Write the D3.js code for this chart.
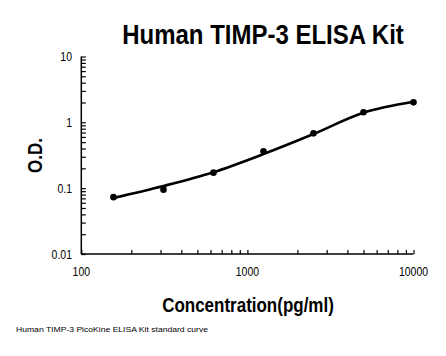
<!DOCTYPE html>
<html><head><meta charset="utf-8">
<script src="https://cdn.jsdelivr.net/npm/d3@7"></script>
<style>html,body{margin:0;padding:0;background:#fff}svg{display:block}text{font-family:"Liberation Sans",Arial,sans-serif;fill:#000}</style>
</head><body><svg id="c" width="446" height="356"></svg>
<script>
const concentrations = [156.25, 312.5, 625, 1250, 2500, 5000, 10000];
const odValues = [0.073, 0.095, 0.172, 0.364, 0.68, 1.42, 2.01];
const fitValues = [0.071, 0.108, 0.175, 0.33, 0.665, 1.40, 2.05];
const xTickValues = [100, 1000, 10000];
const xTickLabels = ["100", "1000", "10000"];
const yTickValues = [0.01, 0.1, 1, 10];
const yTickLabels = ["0.01", "0.1", "1", "10"];

const svg = d3.select("#c");
const x = d3.scaleLog().domain([100, 10000]).range([81.3, 413.5]);
const y = d3.scaleLog().domain([0.01, 10]).range([254, 56.5]);

const xMinor = [];
for (let d = 100; d < 10000; d *= 10) for (let k = 1; k <= 9; k++) xMinor.push(k * d);
xMinor.push(10000);
const yMinor = [];
for (let d = 0.01; d < 9.99; d *= 10) for (let k = 1; k <= 9; k++) yMinor.push(+(k * d).toPrecision(3));
yMinor.push(10);

const g = svg.append("g");
const xAxis = d3.axisBottom(x).tickValues(xMinor).tickSize(-4).tickFormat("");
g.append("g").attr("transform", "translate(0,254)").call(xAxis)
  .call(s => s.select(".domain").attr("d", `M${x(100)},0H${x(10000)}`).attr("stroke-width", 1.5))
  .call(s => s.selectAll(".tick line").attr("stroke-width", 1.2));
const yAxis = d3.axisLeft(y).tickValues(yMinor).tickSize(-4.5).tickFormat("");
g.append("g").attr("transform", "translate(81.3,0)").call(yAxis)
  .call(s => s.select(".domain").attr("d", `M0,${y(10)}V${y(0.01)}`).attr("stroke-width", 1.5))
  .call(s => s.selectAll(".tick line").attr("stroke-width", 1.2));

const SY = 1.15;
svg.append("g").selectAll("text").data(xTickValues).join("text")
  .attr("transform", d => `translate(${x(d)},276) scale(1,${SY})`).attr("text-anchor", "middle")
  .attr("font-size", 10.5).text((d, i) => xTickLabels[i]);
svg.append("g").selectAll("text").data(yTickValues).join("text")
  .attr("transform", d => `translate(72,${y(d) + 4.5}) scale(1,${SY})`).attr("text-anchor", "end")
  .attr("font-size", 10.5).text((d, i) => yTickLabels[i]);

const line = d3.line().x((d, i) => x(concentrations[i])).y(d => y(d)).curve(d3.curveCatmullRom.alpha(0.5));
svg.append("path").attr("d", line(fitValues)).attr("fill", "none")
  .attr("stroke", "#000").attr("stroke-width", 2.6);
svg.append("g").selectAll("circle").data(odValues).join("circle")
  .attr("cx", (d, i) => x(concentrations[i])).attr("cy", d => y(d)).attr("r", 3.3).attr("fill", "#000");

svg.append("text").attr("transform", `translate(263,43.5) scale(1,1.18)`).attr("text-anchor", "middle")
  .attr("font-size", 24).attr("font-weight", "bold").text("Human TIMP-3 ELISA Kit");
svg.append("text").attr("transform", `translate(248,311.5) scale(1,1.15)`).attr("text-anchor", "middle")
  .attr("font-size", 17).attr("font-weight", "bold").text("Concentration(pg/ml)");
svg.append("text").attr("transform", "translate(42,155.5) rotate(-90) scale(1,1.15)").attr("text-anchor", "middle")
  .attr("font-size", 17).attr("font-weight", "bold").text("O.D.");
svg.append("text").attr("x", 16).attr("y", 331.5).attr("font-size", 8)
  .attr("textLength", 192).attr("lengthAdjust", "spacingAndGlyphs")
  .text("Human TIMP-3 PicoKine ELISA Kit standard curve");
</script></body></html>
